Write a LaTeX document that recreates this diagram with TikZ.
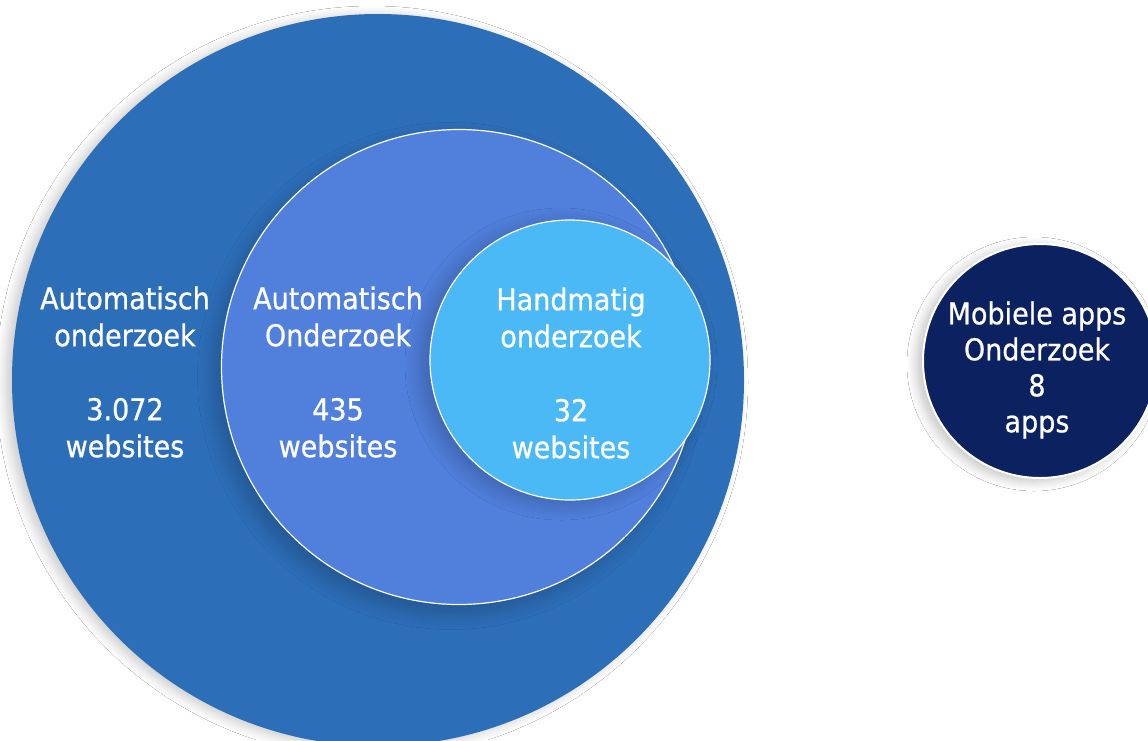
\documentclass[tikz,border=0pt]{standalone}
\usepackage{fontspec}
\setmainfont{DejaVu Sans}[FakeStretch=0.9,FakeBold=0.7]
\usetikzlibrary{shadows.blur}
\definecolor{bigblue}{RGB}{45,110,185}
\definecolor{midblue}{RGB}{80,127,220}
\definecolor{lightblue}{RGB}{75,185,245}
\definecolor{navy}{RGB}{12,34,96}
\tikzset{
  ring/.style={circle, inner sep=0pt, outer sep=0pt},
  lbl/.style={text=white, align=center, font=\fontsize{30}{37}\selectfont},
  lblapps/.style={text=white, align=center, font=\fontsize{30}{36}\selectfont},
}
\begin{document}
\begin{tikzpicture}[x=1pt,y=-1pt]
\useasboundingbox (0,0) rectangle (1148,740);
\clip (0,0) rectangle (1148,740);
\fill[white] (0,0) rectangle (1148,740);
\node[ring, fill=bigblue, minimum size=732pt,
  blur shadow={shadow xshift=-6pt, shadow yshift=-2pt, shadow blur radius=10pt, shadow blur steps=12, shadow opacity=22}] (big) at (378,380) {};
\node[ring, fill=midblue, draw=white, line width=1.2pt, minimum size=475pt,
  blur shadow={shadow xshift=-8pt, shadow yshift=-9pt, shadow blur radius=16pt, shadow blur steps=12, shadow opacity=22}] (mid) at (459,367) {};
\node[ring, fill=lightblue, draw=white, line width=1.2pt, minimum size=280pt,
  blur shadow={shadow xshift=-9pt, shadow yshift=-4pt, shadow blur radius=16pt, shadow blur steps=12, shadow opacity=22}] (small) at (570,360) {};
\node[ring, fill=navy, draw=white, line width=2pt, minimum size=234pt,
  blur shadow={shadow xshift=-6pt, shadow yshift=-3pt, shadow blur radius=10pt, shadow blur steps=12, shadow opacity=25}] (apps) at (1040,361) {};
\node[lbl] (tbig) at (125,372) {Automatisch\\onderzoek\\[37pt]3.072\\websites};
\node[lbl] (tmid) at (338,372) {Automatisch\\Onderzoek\\[37pt]435\\websites};
\node[lbl] (tsmall) at (571,373) {Handmatig\\onderzoek\\[37pt]32\\websites};
\node[lblapps] (tapps) at (1037,370) {Mobiele apps\\Onderzoek\\8\\apps};
\end{tikzpicture}
\end{document}
